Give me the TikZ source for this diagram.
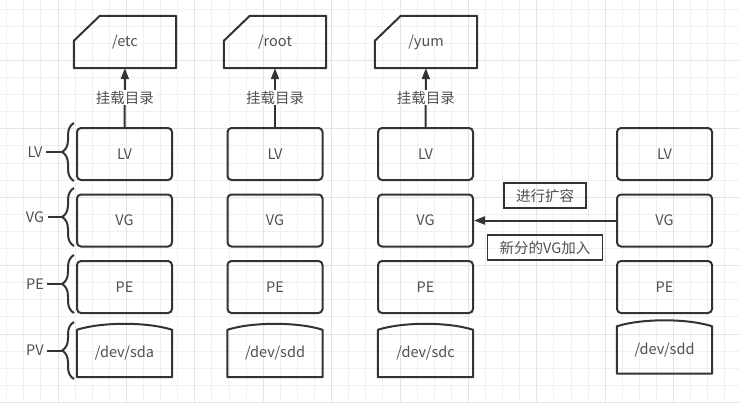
\documentclass[tikz,border=0pt]{standalone}
\usepackage{fontspec}
\setmainfont{Noto Sans CJK SC}
\usepackage{tikz}
\usetikzlibrary{arrows.meta, calc, decorations.pathreplacing}
\definecolor{linegray}{HTML}{333333}
\definecolor{txtgray}{HTML}{505050}
\definecolor{gridminor}{HTML}{F0F0F0}
\definecolor{gridmajor}{HTML}{E4E4E4}
\tikzset{>={Triangle[length=11pt,width=8pt]}}
\tikzset{
	blockbox/.style = {draw = linegray, line width = 2pt, rounded corners = 4pt, minimum width = 95pt, minimum height = 52pt},
	folderbox/.style = {minimum width = 102pt, minimum height = 52pt},
	diskbox/.style = {minimum width = 95pt, minimum height = 47pt},
	shapeline/.style = {draw = linegray, line width = 2pt, line join = round},
	tagbox/.style = {draw = linegray, line width = 1.6pt, inner xsep = 12pt, minimum height = 25pt},
	mount/.style = {->, draw = linegray, line width = 2pt},
	layerbrace/.style = {shapeline, decorate, decoration = {brace, amplitude = 12pt}}
}

\begin{document}
\begin{tikzpicture}[x = 1pt, y = -1pt]
		\useasboundingbox (0, 0) rectangle (739, 402);
		\fill[white] (0, 0) rectangle (739, 402);
		% background grid
		\begin{scope}[shift = {(6.6, 9)}]
			\draw[gridminor, line width = 0.8pt, step = 17.1pt] (-17.1, -17.1) grid (740, 410);
		\end{scope}
		\begin{scope}[shift = {(57.9, 60.3)}]
			\draw[gridmajor, line width = 0.8pt, step = 68.4pt] (-68.4, -68.4) grid (700, 350);
		\end{scope}

		\begin{scope}[every node/.append style = {font = \fontsize{14.5}{17}\selectfont, text = txtgray}]
			% mount points
			\node[folderbox] (etc) at (125, 42) {/etc};
			\node[folderbox] (root) at (275, 42) {/root};
			\node[folderbox] (yum) at (426, 42) {/yum};

			% column 1
			\node[blockbox] (lv1) at (124.5, 154) {LV};
			\node[blockbox] (vg1) at (124.5, 220.5) {VG};
			\node[blockbox] (pe1) at (124.5, 287) {PE};
			\node[diskbox] (pv1) at (124.5, 353.5) {/dev/sda};

			% column 2
			\node[blockbox] (lv2) at (275, 154) {LV};
			\node[blockbox] (vg2) at (275, 220.5) {VG};
			\node[blockbox] (pe2) at (275, 287) {PE};
			\node[diskbox] (pv2) at (275, 353.5) {/dev/sdd};

			% column 3
			\node[blockbox] (lv3) at (425.5, 154) {LV};
			\node[blockbox] (vg3) at (425.5, 220.5) {VG};
			\node[blockbox] (pe3) at (425.5, 287) {PE};
			\node[diskbox] (pv3) at (425.5, 353.5) {/dev/sdc};

			% column 4
			\node[blockbox] (lv4) at (664.5, 154) {LV};
			\node[blockbox] (vg4) at (664.5, 220.5) {VG};
			\node[blockbox] (pe4) at (664.5, 287) {PE};
			\node[diskbox] (pv4) at (664.5, 350) {/dev/sdd};

			% layer names
			\node (lvtag) at (35, 152) {LV};
			\node (vgtag) at (35, 217) {VG};
			\node (petag) at (35, 284) {PE};
			\node (pvtag) at (35, 350.5) {PV};

			\node[tagbox] (grow) at (545, 195.5) {进行扩容};
			\node[tagbox] (newvg) at (545, 247.5) {新分的VG加入};
		\end{scope}

		% folder outlines
		\draw[shapeline] (etc.south west) -- ([yshift = -25pt]etc.north west) -- ([xshift = 26pt]etc.north west) -- (etc.north east) -- (etc.south east) -- cycle;
		\draw[shapeline] (root.south west) -- ([yshift = -25pt]root.north west) -- ([xshift = 26pt]root.north west) -- (root.north east) -- (root.south east) -- cycle;
		\draw[shapeline] (yum.south west) -- ([yshift = -25pt]yum.north west) -- ([xshift = 26pt]yum.north west) -- (yum.north east) -- (yum.south east) -- cycle;

		% disk outlines
		\draw[shapeline] (pv1.south west) -- (pv1.north west) .. controls ([xshift = 25pt, yshift = 8pt]pv1.north west) and ([xshift = -25pt, yshift = 8pt]pv1.north east) .. (pv1.north east) -- (pv1.south east) -- cycle;
		\draw[shapeline] (pv2.south west) -- (pv2.north west) .. controls ([xshift = 25pt, yshift = 8pt]pv2.north west) and ([xshift = -25pt, yshift = 8pt]pv2.north east) .. (pv2.north east) -- (pv2.south east) -- cycle;
		\draw[shapeline] (pv3.south west) -- (pv3.north west) .. controls ([xshift = 25pt, yshift = 8pt]pv3.north west) and ([xshift = -25pt, yshift = 8pt]pv3.north east) .. (pv3.north east) -- (pv3.south east) -- cycle;
		\draw[shapeline] (pv4.south west) -- (pv4.north west) .. controls ([xshift = 25pt, yshift = 8pt]pv4.north west) and ([xshift = -25pt, yshift = 8pt]pv4.north east) .. (pv4.north east) -- (pv4.south east) -- cycle;

		% mount arrows
		\draw[mount] (lv1) -- (etc) node[midway, fill = white, inner sep = 1pt, font = \fontsize{14.5}{17}\selectfont, text = txtgray] (m1) {挂载目录};
		\draw[mount] (lv2) -- (root) node[midway, fill = white, inner sep = 1pt, font = \fontsize{14.5}{17}\selectfont, text = txtgray] (m2) {挂载目录};
		\draw[mount] (lv3) -- (yum) node[midway, fill = white, inner sep = 1pt, font = \fontsize{14.5}{17}\selectfont, text = txtgray] (m3) {挂载目录};
		\draw[mount] (vg4) -- (vg3);

		% braces
		\coordinate (lvtip) at (62, 152);
		\coordinate (vgtip) at (62, 217);
		\coordinate (petip) at (62, 284);
		\coordinate (pvtip) at (62, 350.5);
		\draw[layerbrace] (74, 181) -- (74, 123);
		\draw[layerbrace] (74, 246) -- (74, 188);
		\draw[layerbrace] (74, 313) -- (74, 255);
		\draw[layerbrace] (74, 379) -- (74, 322);
		\draw[shapeline] (lvtag) -- (lvtip);
		\draw[shapeline] (vgtag) -- (vgtip);
		\draw[shapeline] (petag) -- (petip);
		\draw[shapeline] (pvtag) -- (pvtip);
	\end{tikzpicture}
\end{document}
